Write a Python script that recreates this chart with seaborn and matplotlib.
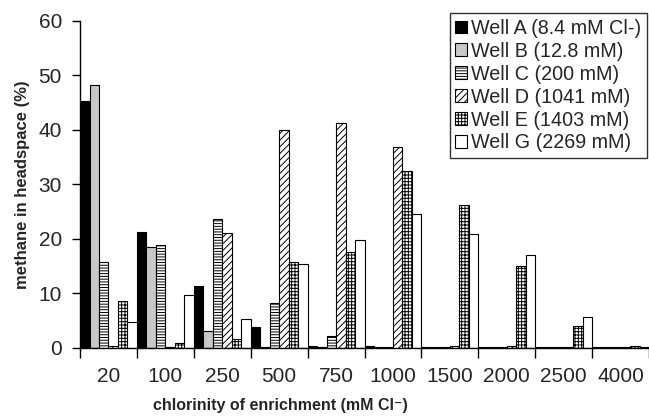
import matplotlib
matplotlib.use("Agg")
import matplotlib.pyplot as plt
import seaborn as sns
import pandas as pd
import numpy as np

categories = ["20", "100", "250", "500", "750", "1000", "1500", "2000", "2500", "4000"]
wells = ["Well A (8.4 mM Cl-)", "Well B (12.8 mM)", "Well C (200 mM)",
         "Well D (1041 mM)", "Well E (1403 mM)", "Well G (2269 mM)"]
well_a = [45.3, 21.3, 11.4, 3.8, 0.3, 0.3, 0.1, 0.1, 0.1, 0.1]
well_b = [48.2, 18.6, 3.2, 0.1, 0.1, 0.1, 0.1, 0.1, 0.1, 0.1]
well_c = [15.8, 18.9, 23.7, 8.2, 2.2, 0.2, 0.2, 0.1, 0.1, 0.1]
well_d = [0.3, 0.2, 21.1, 40.0, 41.3, 36.8, 0.3, 0.3, 0.1, 0.2]
well_e = [8.7, 0.9, 1.6, 15.7, 17.6, 32.4, 26.3, 15.1, 4.1, 0.4]
well_g = [4.7, 9.8, 5.3, 15.5, 19.9, 24.6, 20.9, 17.0, 5.7, 0.1]
series = [well_a, well_b, well_c, well_d, well_e, well_g]

rows = []
for w, vals in zip(wells, series):
    for c, v in zip(categories, vals):
        rows.append({"chlorinity": c, "well": w, "methane": v})
df = pd.DataFrame(rows)

sns.set_style("white")
plt.rcParams["font.family"] = ["Liberation Sans", "DejaVu Sans"]
plt.rcParams["hatch.linewidth"] = 0.7

fig = plt.figure(figsize=(6.49, 4.18), dpi=100)
ax = fig.add_axes([0.1233, 0.1675, 0.8767, 0.7823])

sns.barplot(data=df, x="chlorinity", y="methane", hue="well", order=categories,
            hue_order=wells, width=1.0, dodge=True, legend=False, ax=ax,
            edgecolor="black", linewidth=0.8, saturation=1)

faces = ["black", "#c8c8c8", "white", "white", "white", "white"]
hatches = [None, None, "------", "/////", "+++++", None]
for cont, fc, h in zip(ax.containers, faces, hatches):
    for p in cont.patches:
        p.set_facecolor(fc)
        p.set_edgecolor("black")
        p.set_linewidth(0.8)
        if h:
            p.set_hatch(h)

ax.set_xlim(-0.5, 9.5)
ax.set_ylim(0, 60)
ax.set_yticks(range(0, 61, 10))
ax.set_xticks(range(len(categories)))
ax.set_xticklabels(categories)
ax.set_xticks(np.arange(-0.5, 10, 1.0), minor=True)
ax.tick_params(axis="x", which="major", length=0, labelsize=15, pad=14)
ax.tick_params(axis="x", which="minor", length=7, width=1, direction="out", color="black", bottom=True)
ax.tick_params(axis="y", length=6, width=1, direction="out", color="black", labelsize=15, left=True, pad=7)
for s in ["top", "right"]:
    ax.spines[s].set_visible(False)
for s in ["left", "bottom"]:
    ax.spines[s].set_color("black")
    ax.spines[s].set_linewidth(1)

ax.set_xlabel("chlorinity of enrichment (mM Cl\u207b)", fontsize=11.5, fontweight="bold")
ax.xaxis.set_label_coords(0.353, -0.152)
ax.set_ylabel("methane in headspace (%)", fontsize=12, fontweight="bold", labelpad=6)

leg = ax.legend(ax.containers, wells, loc="upper right", bbox_to_anchor=(0.997, 1.025),
                fontsize=14.2, frameon=True, fancybox=False, handlelength=0.6,
                handleheight=0.6, handletextpad=0.2, labelspacing=0.2, borderpad=0.3,
                borderaxespad=0.0)
leg.get_frame().set_edgecolor("black")
leg.get_frame().set_linewidth(1)

fig.savefig("out.png", dpi=100)
